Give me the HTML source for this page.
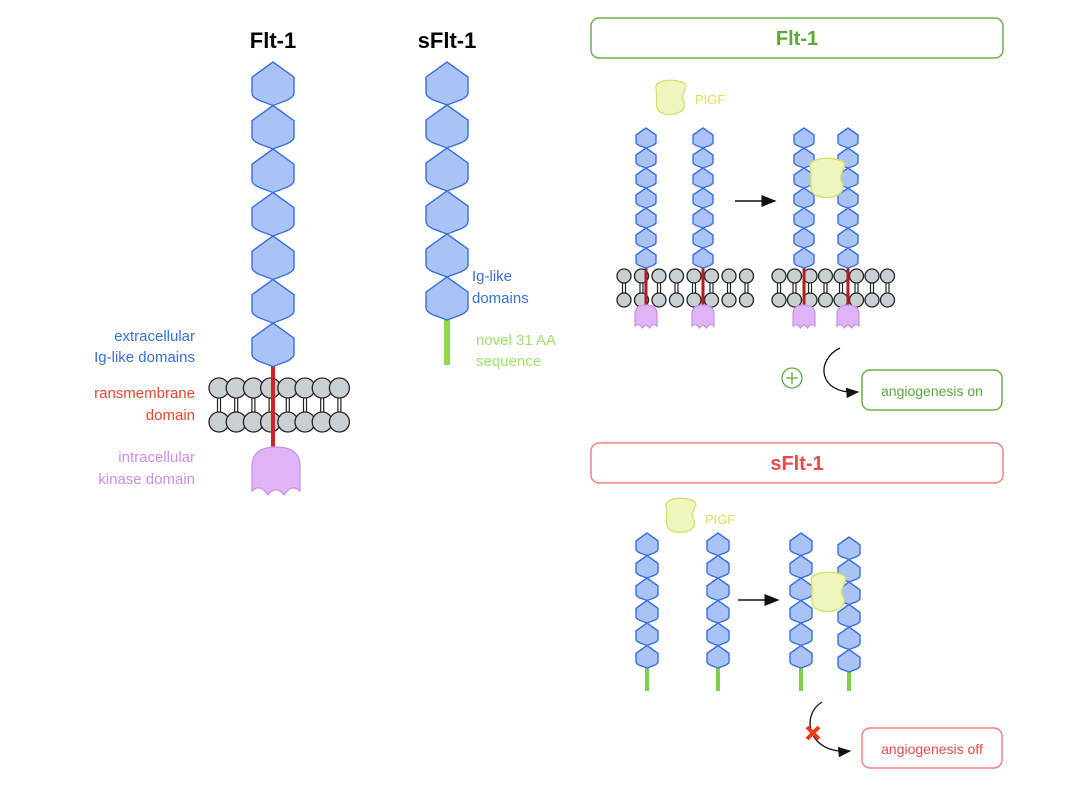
<!DOCTYPE html>
<html><head><meta charset="utf-8"><style>
html,body{margin:0;padding:0;background:#fff}
svg{display:block}
text{font-family:"Liberation Sans",sans-serif}
</style></head><body>
<svg id="s" width="1073" height="807" viewBox="0 0 1073 807" xmlns="http://www.w3.org/2000/svg">
<defs><marker id="ar" markerWidth="10" markerHeight="8" refX="9" refY="4" orient="auto"><path d="M0,0 L10,4 L0,8 Z" fill="#111"/></marker></defs>
<g id="g"></g>
<text x="273" y="48" font-size="22" font-weight="bold" text-anchor="middle">Flt-1</text>
<text x="447" y="48" font-size="22" font-weight="bold" text-anchor="middle">sFlt-1</text>
<g font-size="15" text-anchor="end">
<text x="195" y="341" fill="#3a6fd8">extracellular</text>
<text x="195" y="362" fill="#3a6fd8">Ig-like domains</text>
<text x="195" y="398" fill="#e8462a">ransmembrane</text>
<text x="195" y="420" fill="#e8462a">domain</text>
<text x="195" y="462" fill="#c890e8">intracellular</text>
<text x="195" y="484" fill="#c890e8">kinase domain</text>
</g>
<g font-size="15">
<text x="472" y="281" fill="#3a6fd8">Ig-like</text>
<text x="472" y="303" fill="#3a6fd8">domains</text>
<text x="476" y="345" fill="#9ee36a">novel 31 AA</text>
<text x="476" y="366" fill="#9ee36a">sequence</text>
</g>
<rect x="591" y="18" width="412" height="40" rx="8" fill="none" stroke="#6ab04c" stroke-width="1.5"/>
<text x="797" y="45" font-size="20" font-weight="bold" fill="#5aa83c" text-anchor="middle">Flt-1</text>
<rect x="591" y="443" width="412" height="40" rx="8" fill="none" stroke="#f08080" stroke-width="1.5"/>
<text x="797" y="470" font-size="20" font-weight="bold" fill="#e84a4a" text-anchor="middle">sFlt-1</text>
<rect x="862" y="370" width="140" height="40" rx="8" fill="none" stroke="#6ab04c" stroke-width="1.5"/>
<text x="932" y="396" font-size="14" fill="#5aa83c" text-anchor="middle">angiogenesis on</text>
<rect x="862" y="728" width="140" height="40" rx="8" fill="none" stroke="#f08080" stroke-width="1.5"/>
<text x="932" y="754" font-size="14" fill="#e84a4a" text-anchor="middle">angiogenesis off</text>
<text x="695" y="104" font-size="13" fill="#dede60">PIGF</text>
<text x="705" y="524" font-size="13" fill="#dede60">PIGF</text>
<line x1="735" y1="201" x2="775" y2="201" stroke="#111" stroke-width="1.5" marker-end="url(#ar)"/>
<line x1="738" y1="600" x2="778" y2="600" stroke="#111" stroke-width="1.5" marker-end="url(#ar)"/>
<circle cx="792" cy="378" r="10" fill="none" stroke="#5aa83c" stroke-width="1.3"/>
<path d="M786,378 h12 M792,372 v12" stroke="#5aa83c" stroke-width="1.3"/>
<path d="M840,348 C815,360 818,395 858,392" fill="none" stroke="#111" stroke-width="1.3" marker-end="url(#ar)"/>
<path d="M822,702 C800,715 808,755 850,751" fill="none" stroke="#111" stroke-width="1.3" marker-end="url(#ar)"/>
<path d="M807,727 L819,739 M819,727 L807,739" stroke="#f03c1e" stroke-width="4"/>
</svg>
<script>
var g=document.getElementById('g'),ns='http://www.w3.org/2000/svg';
function el(t,a){var e=document.createElementNS(ns,t);for(var k in a)e.setAttribute(k,a[k]);g.appendChild(e);return e;}
function chain(cx,y0,h,w,n){for(var i=0;i<n;i++){var y=y0+i*h;
el('path',{d:'M'+cx+','+y+' L'+(cx+w/2)+','+(y+h*0.35)+' L'+(cx+w/2)+','+(y+h*0.72)+' Q'+(cx+w/2)+','+(y+h*0.8)+' '+(cx+w/3)+','+(y+h*0.88)+' L'+cx+','+(y+h)+' L'+(cx-w/3)+','+(y+h*0.88)+' Q'+(cx-w/2)+','+(y+h*0.8)+' '+(cx-w/2)+','+(y+h*0.72)+' L'+(cx-w/2)+','+(y+h*0.35)+'Z',fill:'#a9c3f7',stroke:'#3a6fe0','stroke-width':1.4,'stroke-linejoin':'round'});}}
function mem(x0,n,r,y1,y2,dx){for(var i=0;i<n;i++){var x=x0+i*dx;
el('line',{x1:x-1.5,y1:y1,x2:x-1.5,y2:y2,stroke:'#222','stroke-width':1.2});
el('line',{x1:x+1.5,y1:y1,x2:x+1.5,y2:y2,stroke:'#222','stroke-width':1.2});
el('circle',{cx:x,cy:y1,r:r,fill:'#c8d0d4',stroke:'#222','stroke-width':1.3});
el('circle',{cx:x,cy:y2,r:r,fill:'#c8d0d4',stroke:'#222','stroke-width':1.3});}}
function kin(cx,y,w,h){var l=cx-w/2,r=cx+w/2;
el('path',{d:'M'+l+','+(y+h*0.4)+' Q'+l+','+y+' '+cx+','+y+' Q'+r+','+y+' '+r+','+(y+h*0.4)+' L'+r+','+(y+h*0.92)+' Q'+(r-w/6)+','+(y+h*0.75)+' '+(cx+w/6)+','+(y+h)+' Q'+cx+','+(y+h*0.78)+' '+(cx-w/6)+','+(y+h)+' Q'+(l+w/6)+','+(y+h*0.75)+' '+l+','+(y+h*0.92)+'Z',fill:'#deb4f6',stroke:'#c890e8','stroke-width':1.2});}
function bar(x,y1,y2,c,w){el('line',{x1:x,y1:y1,x2:x,y2:y2,stroke:c,'stroke-width':w});}
function blob(x,y,s){el('path',{d:'M'+(x+2*s)+','+(y+8*s)+' C'+(x)+','+(y)+' '+(x+20*s)+','+(y-2*s)+' '+(x+30*s)+','+(y+3*s)+' C'+(x+36*s)+','+(y+8*s)+' '+(x+24*s)+','+(y+14*s)+' '+(x+30*s)+','+(y+22*s)+' C'+(x+34*s)+','+(y+32*s)+' '+(x+18*s)+','+(y+38*s)+' '+(x+6*s)+','+(y+32*s)+' C'+(x)+','+(y+28*s)+' '+(x+4*s)+','+(y+18*s)+' '+(x+2*s)+','+(y+8*s)+'Z',fill:'#f0f5c0',stroke:'#d8e070','stroke-width':1.4});}
// big Flt-1
mem(219,8,10,388,422,17.2);
bar(273,360,452,'#c62828',4);
chain(273,62,43.5,42,7);
kin(276,447,48,48);
// big sFlt-1
bar(447,318,365,'#8fd94f',6);
chain(447,62,43,42,6);
// Flt-1 small
mem(624,8,7,276,300,17.5);
mem(779,8,7,276,300,15.5);
[[646,128],[703,128],[804,128],[848,128]].forEach(function(c){bar(c[0],266,305,'#b71c1c',3);chain(c[0],c[1],20,20,7);kin(c[0],305,22,23);});
blob(654,80,1);blob(808,158,1.15);
// sFlt-1 small
[[647,533],[718,533],[801,533],[849,537]].forEach(function(c){bar(c[0],668,691,'#7cd04a',4);chain(c[0],c[1],22.5,22,6);});
blob(664,498,1);blob(809,572,1.15);
</script>
</body></html>
